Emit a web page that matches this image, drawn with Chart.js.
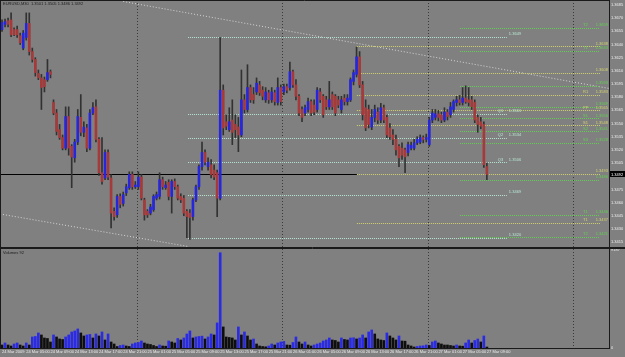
<!DOCTYPE html>
<html><head><meta charset="utf-8">
<script src="https://cdn.jsdelivr.net/npm/chart.js@4.4.1/dist/chart.umd.min.js"></script>
<style>
html,body{margin:0;padding:0;background:#808080;width:625px;height:357px;overflow:hidden}
#main{position:absolute;left:0;top:0}
#vol{position:absolute;left:0;top:248px}
</style></head><body>
<canvas id="main" width="625" height="248"></canvas>
<canvas id="vol" width="625" height="109"></canvas>
<script>
// ---------- data (EURUSD M30) ----------
const symbol = 'EURUSD,M30';
const opens = [1.3657,1.3663,1.3667,1.3668,1.3657,1.3657,1.3650,1.3636,1.3648,1.3664,
1.3632,1.3623,1.3607,1.3602,1.3600,1.3600,1.3609,1.3574,1.3562,1.3543,
1.3534,1.3522,1.3558,1.3524,1.3511,1.3529,1.3557,1.3540,1.3545,1.3522,
1.3562,1.3569,1.3532,1.3494,1.3488,1.3517,1.3488,1.3450,1.3446,1.3467,
1.3459,1.3471,1.3477,1.3492,1.3478,1.3478,1.3489,1.3463,1.3450,1.3448,
1.3452,1.3465,1.3467,1.3486,1.3477,1.3483,1.3467,1.3484,1.3478,1.3467,
1.3465,1.3450,1.3448,1.3444,1.3463,1.3478,1.3501,1.3517,1.3501,1.3503,
1.3497,1.3494,1.3465,1.3588,1.3552,1.3543,1.3554,1.3549,1.3546,1.3537,
1.3577,1.3566,1.3591,1.3583,1.3586,1.3594,1.3588,1.3577,1.3585,1.3577,
1.3585,1.3574,1.3591,1.3586,1.3592,1.3591,1.3609,1.3594,1.3581,1.3566,
1.3562,1.3566,1.3575,1.3571,1.3566,1.3586,1.3581,1.3577,1.3569,1.3583,
1.3581,1.3577,1.3566,1.3579,1.3575,1.3577,1.3598,1.3606,1.3626,1.3594,
1.3568,1.3566,1.3546,1.3557,1.3563,1.3554,1.3568,1.3557,1.3545,1.3537,
1.3532,1.3524,1.3522,1.3520,1.3517,1.3522,1.3522,1.3528,1.3529,1.3534,
1.3532,1.3526,1.3554,1.3557,1.3561,1.3560,1.3554,1.3563,1.3560,1.3566,
1.3574,1.3577,1.3574,1.3579,1.3577,1.3577,1.3574,1.3557,1.3552,1.3549,
1.3501];
const highs = [1.3668,1.3669,1.3670,1.3676,1.3659,1.3661,1.3653,1.3656,1.3676,1.3676,
1.3636,1.3625,1.3611,1.3606,1.3603,1.3623,1.3611,1.3577,1.3566,1.3549,
1.3537,1.3569,1.3569,1.3526,1.3532,1.3566,1.3583,1.3552,1.3549,1.3566,
1.3574,1.3577,1.3534,1.3534,1.3520,1.3520,1.3492,1.3454,1.3469,1.3470,
1.3472,1.3481,1.3495,1.3495,1.3484,1.3495,1.3492,1.3465,1.3452,1.3458,
1.3469,1.3472,1.3494,1.3489,1.3484,1.3486,1.3486,1.3487,1.3480,1.3470,
1.3468,1.3452,1.3452,1.3465,1.3480,1.3503,1.3529,1.3520,1.3511,1.3509,
1.3503,1.3497,1.3648,1.3594,1.3560,1.3568,1.3577,1.3560,1.3557,1.3611,
1.3583,1.3617,1.3594,1.3591,1.3602,1.3598,1.3592,1.3591,1.3588,1.3591,
1.3588,1.3602,1.3594,1.3595,1.3595,1.3620,1.3611,1.3600,1.3583,1.3569,
1.3571,1.3579,1.3577,1.3577,1.3591,1.3590,1.3583,1.3581,1.3598,1.3586,
1.3583,1.3581,1.3581,1.3583,1.3583,1.3602,1.3611,1.3637,1.3632,1.3598,
1.3577,1.3571,1.3566,1.3571,1.3568,1.3573,1.3571,1.3560,1.3550,1.3543,
1.3537,1.3526,1.3528,1.3522,1.3529,1.3529,1.3532,1.3535,1.3537,1.3536,
1.3538,1.3557,1.3566,1.3566,1.3565,1.3563,1.3568,1.3566,1.3574,1.3577,
1.3581,1.3582,1.3591,1.3593,1.3591,1.3581,1.3577,1.3560,1.3557,1.3552,
1.3505];
const lows = [1.3655,1.3660,1.3660,1.3649,1.3650,1.3648,1.3640,1.3634,1.3645,1.3628,
1.3620,1.3604,1.3600,1.3566,1.3586,1.3598,1.3602,1.3560,1.3537,1.3532,
1.3520,1.3520,1.3514,1.3477,1.3506,1.3526,1.3536,1.3535,1.3518,1.3520,
1.3560,1.3529,1.3491,1.3481,1.3486,1.3486,1.3431,1.3440,1.3443,1.3454,
1.3456,1.3468,1.3475,1.3475,1.3476,1.3475,1.3463,1.3440,1.3443,1.3446,
1.3450,1.3463,1.3464,1.3475,1.3475,1.3463,1.3448,1.3475,1.3463,1.3460,
1.3445,1.3420,1.3418,1.3440,1.3461,1.3475,1.3497,1.3503,1.3497,1.3488,
1.3486,1.3444,1.3463,1.3537,1.3543,1.3541,1.3526,1.3534,1.3518,1.3535,
1.3562,1.3563,1.3574,1.3573,1.3583,1.3582,1.3577,1.3574,1.3573,1.3574,
1.3571,1.3571,1.3571,1.3583,1.3585,1.3588,1.3591,1.3577,1.3559,1.3552,
1.3559,1.3563,1.3559,1.3560,1.3563,1.3574,1.3557,1.3566,1.3566,1.3566,
1.3559,1.3568,1.3562,1.3571,1.3571,1.3575,1.3594,1.3603,1.3591,1.3554,
1.3542,1.3545,1.3543,1.3552,1.3550,1.3551,1.3551,1.3534,1.3532,1.3526,
1.3514,1.3501,1.3509,1.3494,1.3513,1.3520,1.3520,1.3526,1.3527,1.3528,
1.3529,1.3524,1.3551,1.3554,1.3553,1.3551,1.3552,1.3554,1.3557,1.3563,
1.3570,1.3571,1.3571,1.3573,1.3570,1.3566,1.3551,1.3540,1.3544,1.3500,
1.3486];
const closes = [1.3665,1.3666,1.3663,1.3651,1.3651,1.3651,1.3642,1.3653,1.3664,1.3632,
1.3623,1.3608,1.3602,1.3591,1.3592,1.3608,1.3606,1.3562,1.3541,1.3534,
1.3522,1.3558,1.3522,1.3512,1.3529,1.3558,1.3540,1.3546,1.3522,1.3562,
1.3568,1.3532,1.3494,1.3484,1.3517,1.3489,1.3448,1.3444,1.3467,1.3458,
1.3469,1.3478,1.3492,1.3478,1.3480,1.3489,1.3465,1.3446,1.3446,1.3455,
1.3467,1.3469,1.3486,1.3478,1.3480,1.3467,1.3484,1.3478,1.3465,1.3463,
1.3448,1.3444,1.3443,1.3463,1.3478,1.3501,1.3517,1.3506,1.3506,1.3492,
1.3489,1.3465,1.3588,1.3545,1.3547,1.3552,1.3540,1.3543,1.3537,1.3577,
1.3566,1.3591,1.3577,1.3577,1.3596,1.3585,1.3581,1.3586,1.3577,1.3586,
1.3575,1.3591,1.3575,1.3592,1.3588,1.3609,1.3594,1.3581,1.3562,1.3557,
1.3568,1.3575,1.3562,1.3563,1.3588,1.3577,1.3560,1.3569,1.3577,1.3569,
1.3562,1.3571,1.3577,1.3575,1.3579,1.3600,1.3608,1.3626,1.3594,1.3560,
1.3545,1.3549,1.3557,1.3566,1.3554,1.3568,1.3554,1.3537,1.3535,1.3532,
1.3520,1.3511,1.3514,1.3512,1.3526,1.3525,1.3528,1.3532,1.3534,1.3532,
1.3534,1.3554,1.3562,1.3561,1.3557,1.3554,1.3563,1.3558,1.3569,1.3575,
1.3577,1.3574,1.3579,1.3575,1.3574,1.3569,1.3554,1.3549,1.3547,1.3503,
1.3492];
const volumes = [282,470,282,188,376,470,282,188,470,282,
1034,1081,1410,1222,940,893,564,1222,1034,846,
799,1034,1222,1504,1598,1786,1410,1128,1222,1269,
940,1316,1128,1504,752,1316,564,376,141,235,
282,188,141,376,470,517,658,470,376,329,
235,141,282,188,169,658,564,470,893,752,
940,1316,1598,940,1034,1081,1109,846,1034,1316,
1222,2350,8930,1974,1034,987,940,752,1974,1222,
1504,1128,752,846,376,188,141,113,188,376,
282,470,564,611,282,263,517,1034,564,376,
564,282,188,282,376,470,658,752,940,752,
705,564,940,799,752,940,959,846,940,1222,
940,1504,1692,1316,846,752,705,1410,1128,940,
752,1128,658,639,282,188,94,141,188,207,
282,235,564,658,470,376,282,282,235,188,
282,188,169,470,752,470,705,846,564,1128,
92];
const timeLabels = ['24 Mar 2009','24 Mar 05:00','24 Mar 09:00','24 Mar 13:00','24 Mar 17:00','24 Mar 21:00',
'25 Mar 01:00','25 Mar 05:00','25 Mar 09:00','25 Mar 13:00','25 Mar 17:00','25 Mar 21:00',
'26 Mar 01:00','26 Mar 05:00','26 Mar 09:00','26 Mar 13:00','26 Mar 17:00','26 Mar 21:00',
'27 Mar 01:00','27 Mar 05:00','27 Mar 09:00'];
const barsPerLabel = 8;
const priceTicks = [1.3685,1.3670,1.3655,1.3640,1.3625,1.3610,1.3595,1.3580,1.3565,1.3550,
1.3535,1.3520,1.3505,1.3490,1.3475,1.3460,1.3445,1.3430,1.3415];
const volumeTicks = [0, 9187];
const dayGrid = [44.5, 92.5, 140.5, 188.5];
// levels (prices) and their tags
const cyanLevels = [1.3649,1.3561,1.3534,1.3506,1.3469,1.3420];
const cyanTags = ['','Q1','Q2','Q3','',''];
const yellowLevels = [1.3638,1.3608,1.3583,1.3565,1.3548,1.3493,1.3437];
const yellowTags = ['','','R1','PP','S1','','T1'];
const greenLevels = [1.3659,1.3633,1.3593,1.3569,1.3556,1.3541,1.3528,1.3486,1.3446,1.3421];
const greenTags = ['T2','T1','','','S1','S2','S3','','T1','T2'];
// trend lines: [bar, price, bar, price]
const trendLines = [[40, 1.3689, 200.3, 1.3590], [-0.66, 1.3447, 61.4, 1.3410]];

// ---------- style / layout ----------
const FONT = '"Liberation Sans", Arial, sans-serif';
const BULL = '#2626dc', BEAR = '#a63a3a', WICK = '#323232';
const VOL_UP = '#2b2be4', VOL_DN = '#0e0e0e';
const GRID = '#3a3a3a', TREND = '#d6d6d6', FRAME = '#1a1a1a', LABEL = '#ececec';
const CYAN = '#b6e6d2', YELLOW = '#d2d270', GREEN = '#62d052';
const X_MIN = -0.66, X_MAX = 200.3, Y_MIN = 1.34094, Y_MAX = 1.36907;
const levelGroups = [
  {prices: cyanLevels, tags: cyanTags, color: CYAN, from: 61.4, to: 166.6, side: 'end'},
  {prices: yellowLevels, tags: yellowTags, color: YELLOW, from: 117.1, to: 197.3, side: 'right'},
  {prices: greenLevels, tags: greenTags, color: GREEN, from: 151.1, to: 197.3, side: 'right'}
];
const priceLineEnd = 117.1;
const last = closes.length - 1;

function fixAxis(w, h) {
  return s => { if (w != null) s.width = w; if (h != null) s.height = h;
    s.paddingTop = 0; s.paddingBottom = 0; s.paddingLeft = 0; s.paddingRight = 0; };
}
function dline(ctx, x0, y0, x1, y1) { ctx.beginPath(); ctx.moveTo(x0, y0); ctx.lineTo(x1, y1); ctx.stroke(); }
const crisp = v => Math.round(v) + 0.5;

const mainPlugin = {
  id: 'mainDecor',
  beforeDatasetsDraw(chart) {
    const {ctx, chartArea: a, scales: {x, y}} = chart;
    ctx.save();
    ctx.beginPath(); ctx.rect(a.left, a.top, a.right - a.left, a.bottom - a.top); ctx.clip();
    ctx.lineWidth = 1;
    ctx.strokeStyle = GRID; ctx.setLineDash([1, 2]);
    dayGrid.forEach(g => { const px = crisp(x.getPixelForValue(g)); dline(ctx, px, a.top, px, a.bottom); });
    ctx.strokeStyle = TREND; ctx.setLineDash([1, 2]);
    trendLines.forEach(t => dline(ctx, x.getPixelForValue(t[0]), y.getPixelForValue(t[1]),
                                       x.getPixelForValue(t[2]), y.getPixelForValue(t[3])));
    ctx.setLineDash([1, 1]);
    levelGroups.forEach(g => {
      ctx.strokeStyle = g.color;
      g.prices.forEach(p => { const py = crisp(y.getPixelForValue(p));
        dline(ctx, x.getPixelForValue(g.from), py, x.getPixelForValue(g.to), py); });
    });
    ctx.setLineDash([]); ctx.strokeStyle = '#000';
    const py = crisp(y.getPixelForValue(closes[last]));
    dline(ctx, a.left, py, x.getPixelForValue(priceLineEnd), py);
    ctx.restore();
  },
  afterDraw(chart) {
    const {ctx, chartArea: a, scales: {x, y}} = chart;
    ctx.save();
    ctx.font = '4px ' + FONT; ctx.textBaseline = 'middle';
    levelGroups.forEach(g => {
      ctx.fillStyle = g.color;
      g.prices.forEach((p, k) => {
        const py = y.getPixelForValue(p) - 2.5; const tag = g.tags[k];
        if (g.side === 'end') {
          const ex = x.getPixelForValue(g.to);
          ctx.textAlign = 'left'; ctx.fillText(p.toFixed(4), ex + 2, py);
          if (tag) ctx.fillText(tag, ex - 9, py);
        } else {
          ctx.textAlign = 'right'; ctx.fillText(p.toFixed(4), a.right - 1, py);
          if (tag) { ctx.textAlign = 'left'; ctx.fillText(tag, a.right - 26, py); }
        }
      });
    });
    // current price box
    const lp = y.getPixelForValue(closes[last]);
    ctx.fillStyle = '#000'; ctx.fillRect(a.right + 1, Math.round(lp) - 3, 15, 6);
    ctx.fillStyle = '#fff'; ctx.textAlign = 'left'; ctx.fillText(closes[last].toFixed(4), a.right + 2, lp);
    // title
    ctx.fillStyle = '#1c1c1c'; ctx.textBaseline = 'top';
    ctx.fillText(symbol + '  ' + [opens[last], highs[last], lows[last], closes[last]].map(v => v.toFixed(4)).join(' '), 3, 2);
    // frame
    ctx.strokeStyle = FRAME; ctx.lineWidth = 1;
    dline(ctx, 0.5, 0, 0.5, a.bottom);
    dline(ctx, 0, 0.5, a.right, 0.5);
    dline(ctx, a.right + 0.5, 0, a.right + 0.5, chart.height);
    dline(ctx, 0, a.bottom + 0.5, chart.width, a.bottom + 0.5);
    ctx.restore();
  }
};

const volPlugin = {
  id: 'volDecor',
  beforeDatasetsDraw(chart) {
    const {ctx, chartArea: a, scales: {x}} = chart;
    ctx.save(); ctx.lineWidth = 1; ctx.strokeStyle = GRID; ctx.setLineDash([1, 2]);
    dayGrid.forEach(g => { const px = crisp(x.getPixelForValue(g)); dline(ctx, px, 1, px, a.bottom); });
    ctx.restore();
  },
  afterDraw(chart) {
    const {ctx, chartArea: a} = chart;
    ctx.save();
    ctx.font = '4px ' + FONT; ctx.fillStyle = '#1c1c1c'; ctx.textBaseline = 'top'; ctx.textAlign = 'left';
    ctx.fillText('Volumes ' + volumes[last], 3, a.top + 1);
    ctx.strokeStyle = FRAME; ctx.lineWidth = 1;
    dline(ctx, 0, 0.5, chart.width, 0.5);
    dline(ctx, 0.5, 0, 0.5, a.bottom);
    dline(ctx, a.right + 0.5, 0, a.right + 0.5, a.bottom + 1);
    dline(ctx, 0, a.bottom + 0.5, a.right + 1, a.bottom + 0.5);
    ctx.restore();
  }
};

const tickFont = {family: FONT, size: 4};

new Chart(document.getElementById('main'), {
  type: 'bar',
  data: { datasets: [
    { label: 'body', data: opens.map((o, i) => ({x: i, y: [o, closes[i]]})),
      backgroundColor: opens.map((o, i) => closes[i] >= o ? BULL : BEAR),
      barThickness: 2, grouped: false, minBarLength: 1, borderWidth: 0 },
    { label: 'wick', data: highs.map((h, i) => ({x: i, y: [lows[i], h]})),
      backgroundColor: WICK, barThickness: 1, grouped: false, borderWidth: 0 }
  ]},
  options: {
    responsive: false, animation: false, events: [],
    layout: {padding: {left: 0, right: 0, top: 0, bottom: 1}},
    plugins: {legend: {display: false}, tooltip: {enabled: false}},
    scales: {
      x: {type: 'linear', min: X_MIN, max: X_MAX, offset: false, display: false, grid: {display: false}},
      y: {type: 'linear', position: 'right', min: Y_MIN, max: Y_MAX, beginAtZero: false,
          grid: {display: false, drawTicks: false}, border: {display: false},
          afterBuildTicks: s => { s.ticks = priceTicks.map(v => ({value: v})); },
          afterFit: fixAxis(16, null),
          ticks: {padding: 2, color: LABEL, font: tickFont, autoSkip: false, callback: v => v.toFixed(4)}}
    }
  },
  plugins: [mainPlugin]
});

new Chart(document.getElementById('vol'), {
  type: 'bar',
  data: { datasets: [
    { label: 'Volumes', data: volumes.map((v, i) => ({x: i, y: v})),
      backgroundColor: volumes.map((v, i) => (i > 0 && v > volumes[i - 1]) ? VOL_UP : VOL_DN),
      barThickness: 2, grouped: false, borderWidth: 0 }
  ]},
  options: {
    responsive: false, animation: false, events: [],
    layout: {padding: {left: 0, right: 0, top: 2, bottom: 0}},
    plugins: {legend: {display: false}, tooltip: {enabled: false}},
    scales: {
      x: {type: 'linear', min: X_MIN, max: X_MAX, offset: false, position: 'bottom',
          grid: {display: false, drawTicks: false}, border: {display: false},
          afterBuildTicks: s => { s.ticks = timeLabels.map((t, i) => ({value: i * barsPerLabel})); },
          afterFit: fixAxis(null, 9),
          ticks: {align: 'start', padding: 1, color: LABEL, font: tickFont, autoSkip: false,
                  maxRotation: 0, minRotation: 0, callback: (v, i) => timeLabels[i]}},
      y: {type: 'linear', position: 'right', min: volumeTicks[0], max: volumeTicks[1],
          grid: {display: false, drawTicks: false}, border: {display: false},
          afterBuildTicks: s => { s.ticks = volumeTicks.map(v => ({value: v})); },
          afterFit: fixAxis(16, null),
          ticks: {padding: 2, color: LABEL, font: tickFont, autoSkip: false, callback: v => String(v)}}
    }
  },
  plugins: [volPlugin]
});
</script></body></html>
